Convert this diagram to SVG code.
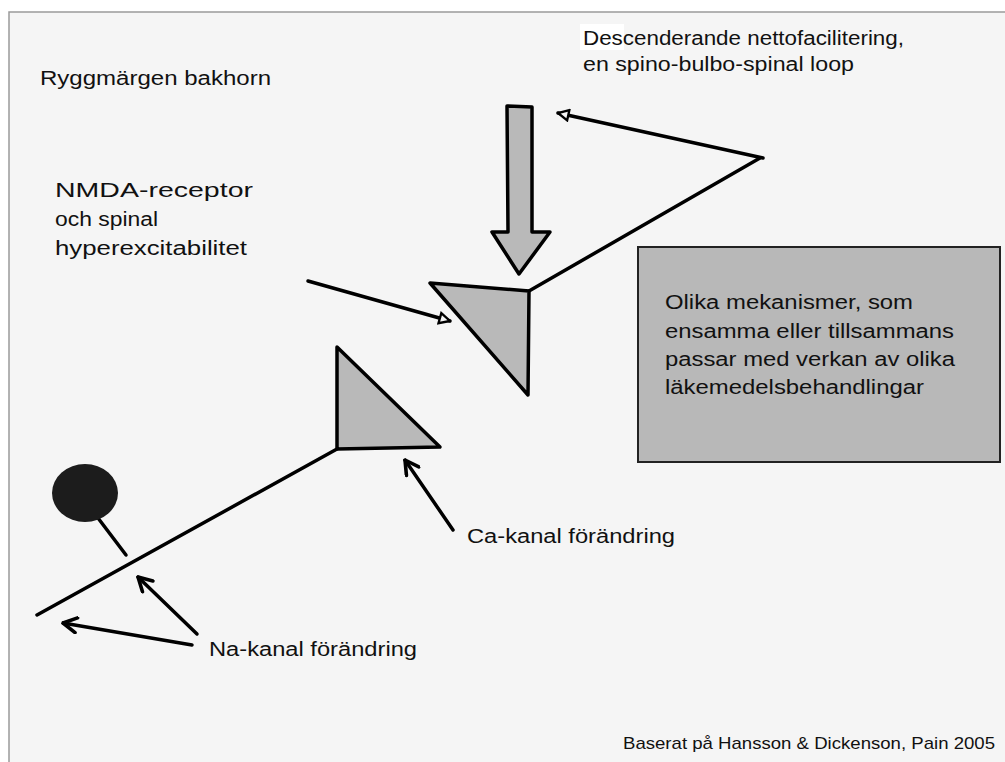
<svg xmlns="http://www.w3.org/2000/svg" width="1005" height="762" viewBox="0 0 1005 762">
<defs>
<style>
.t{font-family:"Liberation Sans",Arial,sans-serif;font-size:20px;fill:#111}
.s{font-family:"Liberation Sans",Arial,sans-serif;font-size:17px;fill:#111}
.ln{stroke:#000;stroke-width:3.5;fill:none;stroke-linecap:round;stroke-linejoin:round}
.sh{fill:#b9b9b9;stroke:#000;stroke-width:3.5;stroke-linejoin:round}
</style>
<marker id="v" viewBox="0 0 12 12" refX="11" refY="6" markerWidth="18" markerHeight="18" markerUnits="userSpaceOnUse" orient="auto">
<path d="M2,1 L11,6 L2,11" fill="none" stroke="#000" stroke-width="2.4" stroke-linecap="round" stroke-linejoin="round"/>
</marker>
<marker id="tri" viewBox="0 0 12 12" refX="11" refY="6" markerWidth="14" markerHeight="14" markerUnits="userSpaceOnUse" orient="auto">
<path d="M2,1.5 L11,6 L2,10.5 Z" fill="#f5f5f5" stroke="#000" stroke-width="2"/>
</marker>
</defs>
<rect x="0" y="0" width="1005" height="762" fill="#fff"/>
<rect x="9" y="12" width="1000" height="760" fill="#f5f5f5" stroke="#9a9a9a" stroke-width="1.5"/>

<g id="connectors">
<line class="ln" x1="337" y1="449" x2="37" y2="615"/>
<line class="ln" x1="98" y1="518" x2="126" y2="555"/>
<line class="ln" x1="529" y1="291" x2="760" y2="158"/>
<line class="ln" x1="763" y1="158" x2="558" y2="113" marker-end="url(#tri)"/>
<line class="ln" x1="308" y1="281" x2="450" y2="321" marker-end="url(#tri)"/>
<line class="ln" x1="453" y1="530" x2="405" y2="460" marker-end="url(#v)"/>
<line class="ln" x1="197" y1="634" x2="138" y2="577" marker-end="url(#v)"/>
<line class="ln" x1="192" y1="645" x2="63" y2="623" marker-end="url(#v)"/>
</g>

<g id="soma"><ellipse cx="85" cy="493" rx="33" ry="29" fill="#1c1c1c"/></g>
<g id="lower-triangle"><polygon class="sh" points="337,347 440,447 337,449"/></g>
<g id="upper-triangle"><polygon class="sh" points="430,283 529,291 528,395"/></g>
<g id="block-arrow"><polygon class="sh" points="507,106 532,107 532,232 550,232 519,274 492,232 508,232"/></g>

<g id="box">
<rect x="638" y="247" width="362" height="215" fill="#b8b8b8" stroke="#222" stroke-width="2"/>
<text class="t" x="665" y="309" textLength="248" lengthAdjust="spacingAndGlyphs">Olika mekanismer, som</text>
<text class="t" x="665" y="338" textLength="289" lengthAdjust="spacingAndGlyphs">ensamma eller tillsammans</text>
<text class="t" x="665" y="366" textLength="290" lengthAdjust="spacingAndGlyphs">passar med verkan av olika</text>
<text class="t" x="665" y="394" textLength="259" lengthAdjust="spacingAndGlyphs">läkemedelsbehandlingar</text>
</g>

<g id="labels">
<text class="t" x="40" y="85" textLength="231" lengthAdjust="spacingAndGlyphs">Ryggmärgen bakhorn</text>
<rect x="580" y="24" width="44" height="26" fill="#fff"/>
<text class="t" x="583" y="45" textLength="321" lengthAdjust="spacingAndGlyphs">Descenderande nettofacilitering,</text>
<text class="t" x="583" y="71" textLength="271" lengthAdjust="spacingAndGlyphs">en spino-bulbo-spinal loop</text>
<text class="t" x="55" y="197" textLength="198" lengthAdjust="spacingAndGlyphs">NMDA-receptor</text>
<text class="t" x="55" y="226" textLength="103" lengthAdjust="spacingAndGlyphs">och spinal</text>
<text class="t" x="55" y="255" textLength="192" lengthAdjust="spacingAndGlyphs">hyperexcitabilitet</text>
<text class="t" x="467" y="543" textLength="208" lengthAdjust="spacingAndGlyphs">Ca-kanal förändring</text>
<text class="t" x="209" y="656" textLength="208" lengthAdjust="spacingAndGlyphs">Na-kanal förändring</text>
<text class="s" x="623" y="749" textLength="372" lengthAdjust="spacingAndGlyphs">Baserat på Hansson &amp; Dickenson, Pain 2005</text>
</g>
</svg>
